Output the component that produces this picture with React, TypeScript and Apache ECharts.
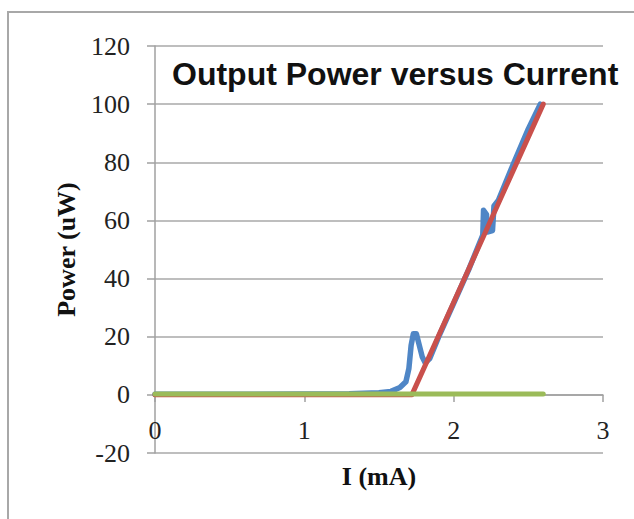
import React, { useEffect, useRef } from "react";
import * as echarts from "echarts";

const titleText = "Output Power versus Current";
const xAxisName = "I (mA)";
const yAxisName = "Power (uW)";

const xTicks = [0, 1, 2, 3];
const yTicks = [-20, 0, 20, 40, 60, 80, 100, 120];

// Series 1 (blue): measured output power
const blueI = [0, 0.5, 1.0, 1.3, 1.5, 1.58, 1.64, 1.68, 1.7, 1.715, 1.73, 1.75, 1.77, 1.79, 1.81, 1.84, 1.9, 2.0, 2.1, 2.195, 2.2, 2.22, 2.225, 2.26, 2.27, 2.3, 2.4, 2.5, 2.58];
const blueP = [0.2, 0.2, 0.3, 0.4, 0.7, 1.2, 2.5, 4.5, 9, 17, 21, 21, 17, 13, 11, 12.5, 20, 31.5, 43, 55, 63.5, 62, 56, 56.5, 65, 67, 79.5, 91.5, 100];

// Series 2 (red): linear fit
const redI = [0, 1.72, 2.6];
const redP = [0, 0, 100];

// Series 3 (green): baseline
const greenI = [0, 2.6];
const greenP = [0.3, 0.3];

const zip = (xs: number[], ys: number[]) => xs.map((x, i) => [x, ys[i]]);

export default function App() {
  const ref = useRef<HTMLDivElement>(null);
  useEffect(() => {
    if (!ref.current) return;
    const chart = echarts.init(ref.current, undefined, { renderer: "svg" });
    const serif = "Liberation Serif";
    chart.setOption({
      animation: false,
      backgroundColor: "#ffffff",
      title: {
        text: titleText,
        left: 167,
        top: 53,
        textStyle: {
          fontFamily: "Liberation Sans",
          fontWeight: "bold",
          fontSize: 32,
          color: "#111",
        },
      },
      graphic: [
        {
          type: "rect",
          shape: { x: 8, y: 12, width: 800, height: 700 },
          style: { fill: "none", stroke: "#a8a8a8", lineWidth: 2 },
          silent: true,
        },
      ],
      grid: { left: 155, right: 31, top: 46, bottom: 66, outerBoundsMode: "none", containLabel: false },
      xAxis: {
        type: "value",
        min: xTicks[0],
        max: xTicks[xTicks.length - 1],
        interval: 1,
        position: "bottom",
        offset: -58,
        name: xAxisName,
        nameLocation: "middle",
        nameGap: 68,
        nameTextStyle: { fontFamily: serif, fontWeight: "bold", fontSize: 26, color: "#111" },
        axisLine: { onZero: false, lineStyle: { color: "#a0a0a0", width: 1.5 } },
        axisTick: { show: true, inside: false, length: 7, lineStyle: { color: "#a0a0a0", width: 1.5 } },
        axisLabel: { margin: 22, fontFamily: serif, fontSize: 26, color: "#222" },
        splitLine: { show: false },
      },
      yAxis: {
        type: "value",
        min: yTicks[0],
        max: yTicks[yTicks.length - 1],
        interval: 20,
        name: yAxisName,
        nameLocation: "middle",
        nameGap: 76,
        nameTextStyle: { fontFamily: serif, fontWeight: "bold", fontSize: 26, color: "#111" },
        axisLine: { show: true, onZero: false, lineStyle: { color: "#a0a0a0", width: 1.5 } },
        axisTick: { show: true, inside: false, length: 8, lineStyle: { color: "#a0a0a0", width: 1.5 } },
        axisLabel: { margin: 25, fontFamily: serif, fontSize: 26, color: "#222" },
        splitLine: { show: true, lineStyle: { color: "#a8a8a8", width: 1.5 } },
      },
      series: [
        {
          name: "Measured",
          type: "line",
          data: zip(blueI, blueP),
          showSymbol: false,
          lineStyle: { color: "#4f86c6", width: 5.5, cap: "round", join: "round" },
          itemStyle: { color: "#4f86c6" },
        },
        {
          name: "Fit",
          type: "line",
          data: zip(redI, redP),
          showSymbol: false,
          lineStyle: { color: "#c9504c", width: 5, cap: "round", join: "round" },
          itemStyle: { color: "#c9504c" },
        },
        {
          name: "Baseline",
          type: "line",
          data: zip(greenI, greenP),
          showSymbol: false,
          lineStyle: { color: "#9bbb59", width: 5, cap: "round", join: "round" },
          itemStyle: { color: "#9bbb59" },
        },
      ],
    });
    return () => chart.dispose();
  }, []);
  return (
    <div
      ref={ref}
      style={{ position: "absolute", left: 0, top: 0, width: 634, height: 519 }}
    />
  );
}
